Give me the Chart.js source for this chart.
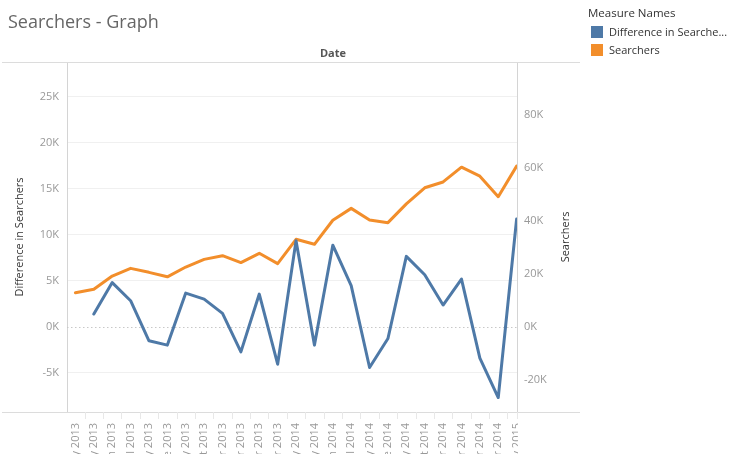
<!DOCTYPE html>
<html><head><meta charset="utf-8">
<script src="https://cdn.jsdelivr.net/npm/chart.js@4.4.0/dist/chart.umd.min.js"></script>
<style>
html,body{margin:0;padding:0;background:#fff;}
#wrap{position:relative;width:736px;height:454px;overflow:hidden;font-family:'Open Sans',sans-serif;}
canvas{position:absolute;left:0;top:0;}
.t{position:absolute;white-space:nowrap;line-height:1;}
.sw{position:absolute;width:12px;height:12px;}
</style></head><body>
<div id="wrap">
<canvas id="c" width="736" height="454"></canvas>
<div class="t" style="left:8px;top:12px;font-size:18px;color:#666;">Searchers - Graph</div>
<div class="t" style="left:333px;top:47px;font-size:11px;font-weight:bold;color:#555;transform:translateX(-50%);">Date</div>
<div class="t" style="left:588px;top:7px;font-size:11.5px;color:#333;">Measure Names</div>
<div class="sw" style="left:591px;top:26px;background:#4e79a7;"></div>
<div class="t" style="left:609px;top:26px;font-size:11px;color:#333;">Difference in Searche...</div>
<div class="sw" style="left:591px;top:44px;background:#f28e2b;"></div>
<div class="t" style="left:609px;top:44px;font-size:11px;color:#333;">Searchers</div>
</div>
<script>
const categories = ['January 2013','February 2013','March 2013','April 2013','May 2013','June 2013','July 2013','August 2013','September 2013','October 2013','November 2013','December 2013','January 2014','February 2014','March 2014','April 2014','May 2014','June 2014','July 2014','August 2014','September 2014','October 2014','November 2014','December 2014','January 2015'];
const searchers = [12900,14200,19200,22100,20600,18900,22600,25500,26900,24300,27800,23900,33100,31200,40300,44800,40400,39400,46500,52600,54800,60400,57000,49200,60800];
const difference = [null,1380,4800,2830,-1520,-1990,3660,3000,1450,-2720,3550,-4060,9350,-1990,8860,4460,-4420,-1270,7640,5650,2360,5180,-3400,-7680,11700];
const leftTicks = [-5000,0,5000,10000,15000,20000,25000];
const rightTicks = [-20000,0,20000,40000,60000,80000];

const kfmt = v => (v/1000) + 'K';
const tickFont = {family:'Open Sans', size:11};

const decor = {
  id:'decor',
  beforeDatasetsDraw(chart){
    const {ctx, chartArea:a, scales} = chart;
    const y0 = scales.y.getPixelForValue(0);
    ctx.save();
    ctx.strokeStyle = '#c8c8c8';
    ctx.lineWidth = 1;
    ctx.setLineDash([1.5,2.5]);
    ctx.beginPath();
    ctx.moveTo(a.left, Math.round(y0)+0.5);
    ctx.lineTo(a.right, Math.round(y0)+0.5);
    ctx.stroke();
    ctx.restore();
  },
  afterDraw(chart){
    const {ctx, chartArea:a, scales} = chart;
    ctx.save();
    // clip the x labels at the pane edge
    ctx.fillStyle = '#fff';
    ctx.fillRect(a.right + 1, a.bottom + 1, 580 - a.right, 454 - a.bottom);
    ctx.strokeStyle = '#dcdcdc';
    ctx.lineWidth = 1;
    ctx.beginPath();
    ctx.moveTo(2, a.top+0.5); ctx.lineTo(580, a.top+0.5);
    ctx.moveTo(2, a.bottom+0.5); ctx.lineTo(580, a.bottom+0.5);
    ctx.stroke();
    ctx.strokeStyle = '#e8e8e8';
    ctx.beginPath();
    for (let i = 0; i < categories.length; i++) {
      const x = Math.round(scales.x.getPixelForValue(i + 0.5)) + 0.5;
      if (x < a.right) { ctx.moveTo(x, a.bottom); ctx.lineTo(x, a.bottom + 7); }
    }
    ctx.moveTo(Math.round(a.right)+0.5, a.bottom); ctx.lineTo(Math.round(a.right)+0.5, a.bottom + 7);
    ctx.stroke();
    ctx.fillStyle = '#333';
    ctx.font = '11px "Open Sans"';
    ctx.textAlign = 'center';
    ctx.textBaseline = 'middle';
    ctx.translate(566, (a.top + a.bottom)/2);
    ctx.rotate(-Math.PI/2);
    ctx.fillText('Searchers', 0, 0);
    ctx.restore();
  }
};

new Chart(document.getElementById('c'), {
  type:'line',
  data:{
    datasets:[
      {label:'Difference in Searchers', data:difference.map((v,i)=>({x:i,y:v})), yAxisID:'y',
       borderColor:'#4e79a7', backgroundColor:'#4e79a7', borderWidth:3, pointRadius:0, tension:0,
       borderJoinStyle:'round', borderCapStyle:'round'},
      {label:'Searchers', data:searchers.map((v,i)=>({x:i,y:v})), yAxisID:'y1',
       borderColor:'#f28e2b', backgroundColor:'#f28e2b', borderWidth:3, pointRadius:0, tension:0,
       borderJoinStyle:'round', borderCapStyle:'round'}
    ]
  },
  options:{
    responsive:false, animation:false, devicePixelRatio:1,
    layout:{padding:{left:0, right:156, top:62, bottom:0}},
    plugins:{legend:{display:false}, tooltip:{enabled:false}},
    scales:{
      x:{type:'linear', min:-0.46, max:24.02,
        afterBuildTicks:s=>{ s.ticks = categories.map((_,i)=>({value:i})); },
        ticks:{autoSkip:false, maxRotation:90, minRotation:90, padding:3, color:'#999', font:tickFont,
          callback:v=>categories[v]},
        grid:{display:false}, border:{display:false},
        afterFit:s=>{ s.height = 42; }},
      y:{position:'left', min:-9250, max:28740,
        afterBuildTicks:s=>{ s.ticks = leftTicks.map(v=>({value:v})); },
        ticks:{color:'#999', font:tickFont, padding:8, callback:kfmt},
        grid:{drawTicks:false, lineWidth:1, color:c=> (c.tick && c.tick.value===0) ? 'rgba(0,0,0,0)' : '#f0f0f0'},
        border:{display:true, color:'#d4d4d4'},
        title:{display:true, text:'Difference in Searchers', color:'#333', font:{family:'Open Sans', size:11}, padding:{top:13,bottom:0}},
        afterFit:s=>{ s.width = 67; }},
      y1:{position:'right', min:-32250, max:100190,
        afterBuildTicks:s=>{ s.ticks = rightTicks.map(v=>({value:v})); },
        ticks:{color:'#999', font:tickFont, padding:7, callback:kfmt},
        grid:{drawOnChartArea:false, drawTicks:false},
        border:{display:true, color:'#d4d4d4'},
        afterFit:s=>{ s.width = 63; }}
    }
  },
  plugins:[decor]
});
</script>
</body></html>
